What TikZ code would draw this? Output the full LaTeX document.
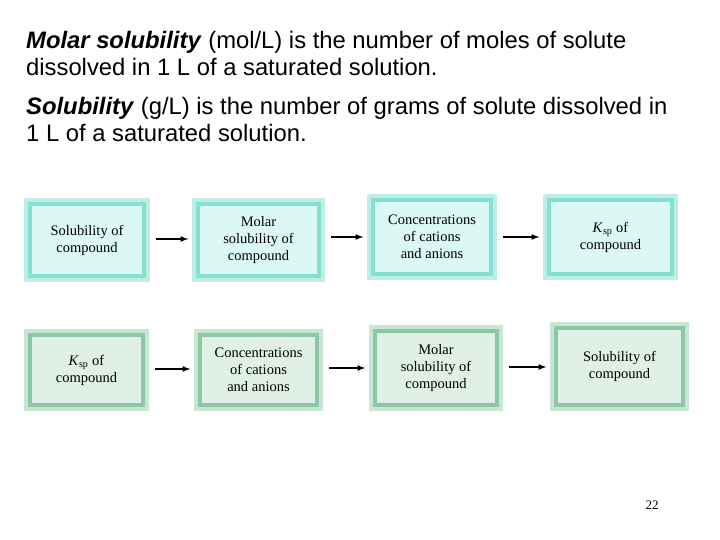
\documentclass[tikz,border=0pt]{standalone}
\usepackage{fontspec}
\setmainfont{Liberation Serif}
\newfontfamily\hd{Liberation Sans}
\definecolor{cA}{RGB}{130,225,210}
\definecolor{cAf}{RGB}{220,248,244}
\definecolor{cAo}{RGB}{190,238,230}
\definecolor{cB}{RGB}{140,200,165}
\definecolor{cBf}{RGB}{224,240,230}
\definecolor{cBo}{RGB}{200,230,210}
\newcommand\mybox[8]{%
 \fill[#8o] (#2,#3) rectangle (#4,#5);
 \node[draw=#8,fill=#8f,line width=3.5pt,minimum width={(#4-#2-12)*1pt},minimum height={(#5-#3-12)*1pt},align=center,font=\fontsize{14.5}{17}\selectfont,inner sep=0pt] (#1) at ({(#2+#4)/2},{(#3+#5)/2}) {#7};}
\tikzset{arr/.style={-latex,line width=1.6pt}}
\begin{document}
\begin{tikzpicture}[x=1pt,y=-1pt]
\useasboundingbox (0,0) rectangle (720,540);
\node[anchor=north west,align=left,font=\hd\fontsize{23.8}{27}\selectfont,inner sep=0pt] (t1) at (26,31) {\textbf{\textit{Molar solubility}} (mol/L) is the number of moles of solute\\dissolved in 1 L of a saturated solution.};
\node[anchor=north west,align=left,font=\hd\fontsize{23.8}{27}\selectfont,inner sep=0pt] (t2) at (26,97) {\textbf{\textit{Solubility}} (g/L) is the number of grams of solute dissolved in\\1 L of a saturated solution.};
\mybox{a1}{24}{198}{150}{282}{}{Solubility of\\compound}{cA}
\mybox{a2}{192}{198}{325}{282}{}{Molar\\solubility of\\compound}{cA}
\mybox{a3}{367}{194}{497}{280}{}{Concentrations\\of cations\\and anions}{cA}
\mybox{a4}{543}{194}{678}{280}{}{\textit{K}\textsubscript{sp} of\\compound}{cA}
\mybox{b1}{24}{329}{149}{411}{}{\textit{K}\textsubscript{sp} of\\compound}{cB}
\mybox{b2}{194}{329}{323}{411}{}{Concentrations\\of cations\\and anions}{cB}
\mybox{b3}{369}{325}{503}{411}{}{Molar\\solubility of\\compound}{cB}
\mybox{b4}{550}{322}{689}{411}{}{Solubility of\\compound}{cB}
\draw[arr] ([xshift=10pt]a1.east |- 0,239) -- ([xshift=-8pt]a2.west |- 0,239);
\draw[arr] ([xshift=10pt]a2.east |- 0,237) -- ([xshift=-8pt]a3.west |- 0,237);
\draw[arr] ([xshift=10pt]a3.east |- 0,237) -- ([xshift=-8pt]a4.west |- 0,237);
\draw[arr] ([xshift=10pt]b1.east |- 0,369) -- ([xshift=-8pt]b2.west |- 0,369);
\draw[arr] ([xshift=10pt]b2.east |- 0,368) -- ([xshift=-8pt]b3.west |- 0,368);
\draw[arr] ([xshift=10pt]b3.east |- 0,367) -- ([xshift=-8pt]b4.west |- 0,367);
\node[font=\fontsize{13}{15}\selectfont] (pg) at (652,505) {22};
\end{tikzpicture}
\end{document}
